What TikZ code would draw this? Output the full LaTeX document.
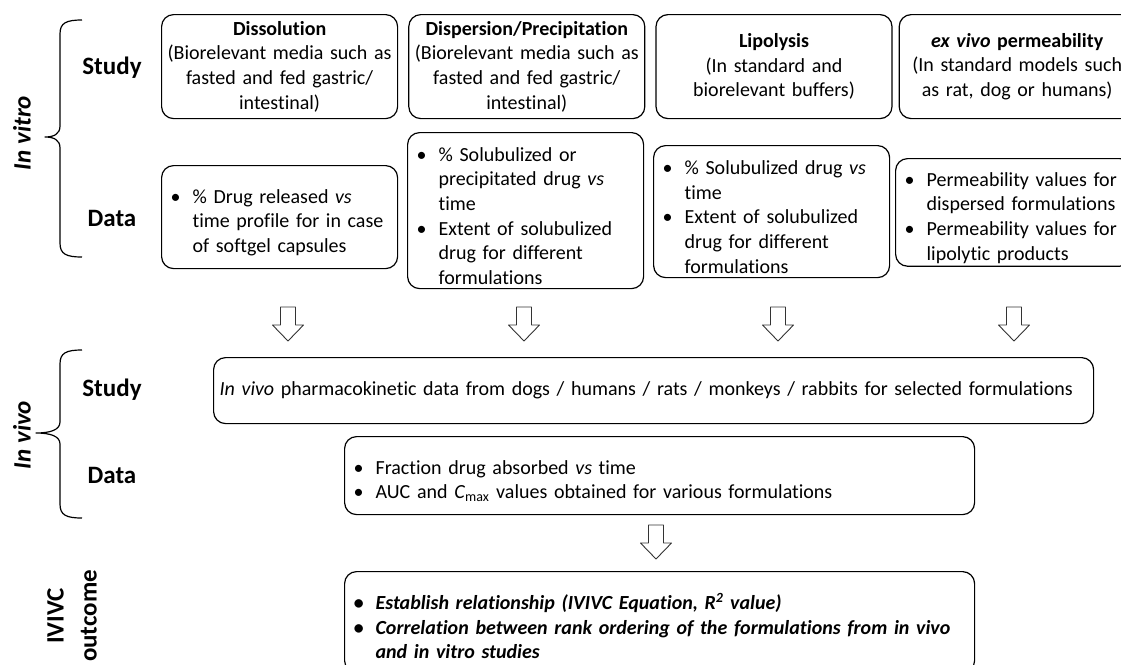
\documentclass[tikz,border=0pt]{standalone}
\usepackage{fontspec}
\setmainfont{Carlito}[Ligatures=NoCommon]
\usetikzlibrary{positioning}

\newcommand{\bitem}[1]{\par\noindent\hangindent=22pt\hangafter=1\makebox[22pt][l]{\textbullet}#1\par}

\begin{document}
\begin{tikzpicture}[x=1pt,y=-1pt,line join=round,
    box/.style={draw,rounded corners=12pt,line width=1.2pt,anchor=north west,inner xsep=6pt,inner ysep=3pt,font=\fontsize{20}{24.6}\selectfont},
    study node/.style={box,minimum width=236pt,minimum height=104pt,text width=224pt,align=center},
    data node/.style={box,minimum width=236pt,text width=218pt,inner xsep=9pt,align=left},
    side label/.style={font=\fontsize{25}{30}\selectfont\bfseries},
    brace line/.style={line width=1.2pt},
    blockarrow/.pic={\draw[line width=0.9pt,draw=black!80] (-7.5,0) -- (7.5,0) -- (7.5,18) -- (15.5,18) -- (0,34) -- (-15.5,18) -- (-7.5,18) -- cycle;}]

    \useasboundingbox (0,0) rectangle (1121,664);
    \clip (0,0) rectangle (1121,664);

    % in vitro studies
    \node[study node] (s1) at (161,14) {\textbf{Dissolution}\\(Biorelevant media such as\\fasted and fed gastric/\\intestinal)};
    \node[study node] (s2) [right=10pt of s1] {\textbf{Dispersion/Precipitation}\\(Biorelevant media such as\\fasted and fed gastric/\\intestinal)};
    \node[study node] (s3) [right=10pt of s2] {\textbf{Lipolysis}\\(In standard and\\biorelevant buffers)};
    \node[study node] (s4) [right=6pt of s3] {\textbf{\textit{ex vivo} permeability}\\(In standard models such\\as rat, dog or humans)};

    % in vitro data
    \node[data node, minimum height=103pt] (d1) at (161,165) {\bitem{\% Drug released \textit{vs}\newline time profile for in case\newline of softgel capsules}};
    \node[data node, minimum height=156pt] (d2) at (407,132) {\bitem{\% Solubulized or\newline precipitated drug \textit{vs}\newline time}\bitem{Extent of solubulized\newline drug for different\newline formulations}};
    \node[data node, minimum height=132pt] (d3) at (653,145) {\bitem{\% Solubulized drug \textit{vs}\newline time}\bitem{Extent of solubulized\newline drug for different\newline formulations}};
    \node[data node, minimum height=105pt] (d4) at (895,158) {\bitem{Permeability values for\newline dispersed formulations}\bitem{Permeability values for\newline lipolytic products}};

    % in vivo
    \node[box, minimum width=880pt, minimum height=66pt, text width=868pt, align=left] (v1) at (213,357) {\textit{In vivo} pharmacokinetic data from dogs / humans / rats / monkeys / rabbits for selected formulations};
    \node[data node, minimum width=630pt, minimum height=78pt, text width=612pt] (v2) at (344,436) {\bitem{Fraction drug absorbed \textit{vs} time}\bitem{AUC and \textit{C}\textsubscript{max} values obtained for various formulations}};

    % outcome
    \node[data node, minimum width=630pt, minimum height=101pt, text width=612pt, font=\fontsize{20}{24.6}\selectfont\bfseries\itshape] (o1) at (344,571) {\bitem{Establish relationship (IVIVC Equation, R\textsuperscript{2} value)}\bitem{Correlation between rank ordering of the formulations from in vivo\newline and in vitro studies}};

    % row labels
    \node[side label] (l1) at (112,68) {Study};
    \node[side label] (l2) at (112,218) {Data};
    \node[side label] (l3) at (112,390) {Study};
    \node[side label] (l4) at (112,475) {Data};
    \node[side label, rotate=90] (g1) at (22,133) {\textit{In vitro}};
    \node[side label, rotate=90] (g2) at (22,435) {\textit{In vivo}};
    \node[side label, rotate=90, align=center, font=\fontsize{25}{33}\selectfont\bfseries] (g3) at (72,616) {IVIVC\\outcome};

    % braces
    \draw[brace line] (82,20) .. controls (66,20) and (60,23) .. (60,34) -- (60,126) .. controls (60,134) and (54,137) .. (45,137) .. controls (54,137) and (60,140) .. (60,148) -- (60,243) .. controls (60,254) and (66,257) .. (82,257);
    \draw[brace line] (82,350) .. controls (66,350) and (60,353) .. (60,364) -- (60,422) .. controls (60,430) and (50,433) .. (36,433) .. controls (50,433) and (60,436) .. (60,444) -- (60,504) .. controls (60,515) and (66,518) .. (82,518);

    % block arrows
    \pic at (288,307) {blockarrow};
    \pic at (524,307) {blockarrow};
    \pic at (778,307) {blockarrow};
    \pic at (1014,307) {blockarrow};
    \pic at (656,525) {blockarrow};
\end{tikzpicture}
\end{document}
